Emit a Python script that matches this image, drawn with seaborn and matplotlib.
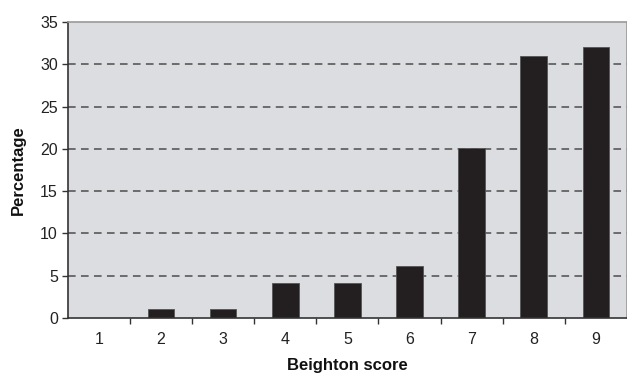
import matplotlib
matplotlib.use("Agg")
import matplotlib.pyplot as plt
import seaborn as sns
import pandas as pd
from matplotlib.ticker import FixedLocator

scores = ["1", "2", "3", "4", "5", "6", "7", "8", "9"]
percentages = [0, 1.1, 1.1, 4.1, 4.1, 6.1, 20.1, 31.0, 32.0]
y_ticks = [0, 5, 10, 15, 20, 25, 30, 35]

df = pd.DataFrame({"score": scores, "pct": percentages})

sns.set_style("white")
plt.rcParams["font.family"] = ["Liberation Sans", "DejaVu Sans"]

fig = plt.figure(figsize=(6.27, 3.75), dpi=100)
ax = fig.add_axes([0.108, 0.152, 0.892, 0.789])
ax.set_facecolor("#dcdde0")

sns.barplot(data=df, x="score", y="pct", color="#231f20", width=0.43,
            edgecolor="#555555", linewidth=0.6, ax=ax, saturation=1)

ax.set_ylim(0, 35)
ax.set_xlim(-0.5, len(scores) - 0.5)
ax.set_yticks(y_ticks)
for v in y_ticks[1:-1]:
    ax.axhline(v, color="#4d4d4d", linestyle=(0, (5, 3.5)), linewidth=1.1, zorder=0.5)

ax.tick_params(axis="y", which="major", direction="out", length=4, width=1,
               color="#333333", labelsize=11.5, pad=3, left=True, labelcolor="#222222")
ax.tick_params(axis="x", which="major", length=0, labelsize=11.5, pad=10, labelcolor="#222222")
ax.xaxis.set_minor_locator(FixedLocator([i + 0.5 for i in range(len(scores) - 1)]))
ax.tick_params(axis="x", which="minor", direction="out", length=4, width=1,
               color="#333333", bottom=True)

for side in ["left", "bottom"]:
    ax.spines[side].set_color("#333333")
    ax.spines[side].set_linewidth(1.2)
for side in ["top", "right"]:
    ax.spines[side].set_color("#999999")
    ax.spines[side].set_linewidth(1.2)

ax.set_xlabel("Beighton score", fontsize=12, fontweight="bold", labelpad=8, color="#111111")
ax.set_ylabel("Percentage", fontsize=12, fontweight="bold", labelpad=10, color="#111111")

fig.savefig("out.png", dpi=100)
